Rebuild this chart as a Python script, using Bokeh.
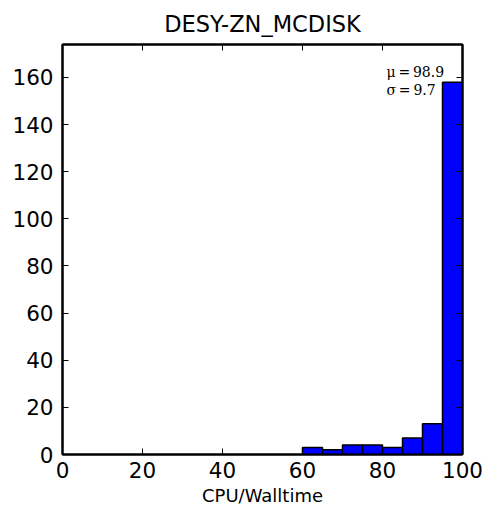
from bokeh.plotting import figure
from bokeh.models import LinearAxis, Range1d, FixedTicker, ColumnDataSource
from bokeh.core.properties import value
from bokeh.embed import file_html
from bokeh.resources import INLINE

# Histogram data (bin edges and counts)
bin_left = [60, 65, 70, 75, 80, 85, 90, 95]
bin_right = [65, 70, 75, 80, 85, 90, 95, 100]
counts = [3, 2, 4, 4, 3, 7, 13, 158]
x_ticks = [0, 20, 40, 60, 80, 100]
y_ticks = [0, 20, 40, 60, 80, 100, 120, 140, 160]
stat_text = ["\u03bc\u2009=\u200998.9", "\u03c3\u2009=\u20099.7"]
stat_x = [81, 81]
stat_y = [162.4, 154.8]

p = figure(width=486, height=508, output_backend="svg", toolbar_location=None,
           title="DESY-ZN_MCDISK",
           x_range=Range1d(0, 100), y_range=Range1d(0, 174),
           min_border_left=62, min_border_right=24, min_border_top=44, min_border_bottom=52)

p.title.align = "center"
p.title.text_font = "DejaVu Sans"
p.title.text_font_size = "22.5px"
p.title.text_font_style = "normal"
p.title.text_color = "black"
p.title.standoff = 15

p.grid.visible = False
p.outline_line_color = "black"
p.outline_line_width = 2
p.background_fill_color = "white"
p.border_fill_color = "white"

for ax in (p.xaxis[0], p.yaxis[0]):
    ax.major_label_text_font = "DejaVu Sans"
    ax.major_label_text_font_size = "21.5px"
    ax.major_label_text_color = "black"
    ax.major_tick_in = 6
    ax.major_tick_out = 0
    ax.minor_tick_in = 0
    ax.minor_tick_out = 0
    ax.axis_line_width = 2
    ax.major_tick_line_width = 1
p.xaxis[0].major_label_standoff = 7
p.yaxis[0].major_label_standoff = 9
p.xaxis[0].ticker = FixedTicker(ticks=x_ticks)
p.yaxis[0].ticker = FixedTicker(ticks=y_ticks)
p.xaxis[0].axis_label = "CPU/Walltime"
p.xaxis[0].axis_label_text_font = "DejaVu Sans"
p.xaxis[0].axis_label_text_font_size = "18px"
p.xaxis[0].axis_label_text_font_style = "normal"
p.xaxis[0].axis_label_text_color = "black"
p.xaxis[0].axis_label_standoff = 4

top = LinearAxis(ticker=FixedTicker(ticks=x_ticks), major_label_text_color=None,
                 major_label_text_font_size="1px",
                 major_tick_in=6, major_tick_out=0, minor_tick_in=0, minor_tick_out=0,
                 major_label_standoff=0, axis_line_width=2)
right = LinearAxis(ticker=FixedTicker(ticks=y_ticks), major_label_text_color=None,
                   major_label_text_font_size="1px",
                   major_tick_in=6, major_tick_out=0, minor_tick_in=0, minor_tick_out=0,
                   major_label_standoff=0, axis_line_width=2)
p.add_layout(top, "above")
p.add_layout(right, "right")

# stats text drawn first so the bar overlaps it
p.text(x=stat_x, y=stat_y, text=stat_text, text_font=value("DejaVu Serif"),
       text_font_size="14px", text_color="black", text_baseline="alphabetic")

src = ColumnDataSource(dict(left=bin_left, right=bin_right, top=counts, bottom=[0] * len(counts)))
p.quad(left="left", right="right", top="top", bottom="bottom", source=src,
       fill_color="#0000ff", line_color="black", line_width=1.5)

open("out.html", "w").write(file_html(p, INLINE))
